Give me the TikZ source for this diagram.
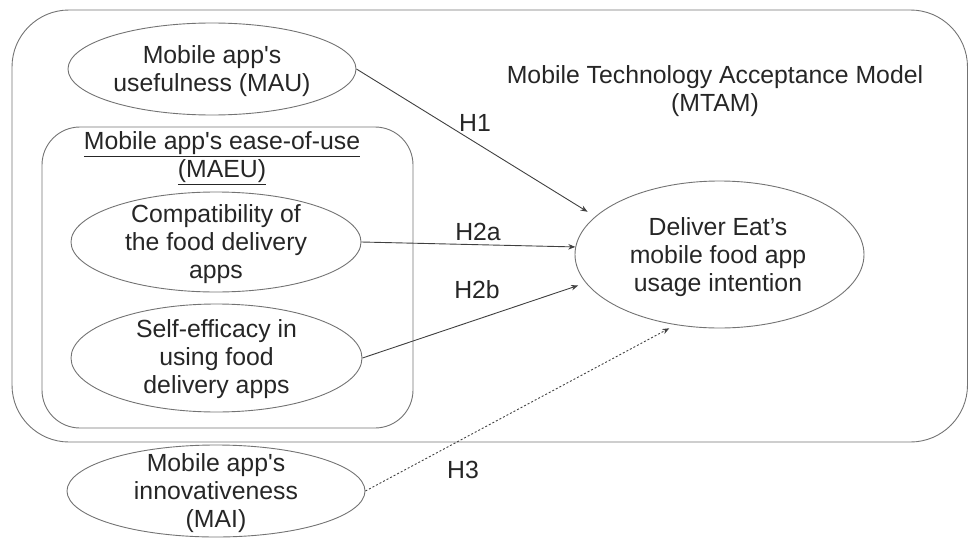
\documentclass[tikz,border=0pt]{standalone}
\usepackage{fontspec}
\setmainfont{Liberation Sans}
\usetikzlibrary{shapes.geometric,arrows.meta}
\begin{document}
\begin{tikzpicture}[x=1pt,y=-1pt,
  txt/.style={align=center,inner sep=0pt,font=\fontsize{24.8}{27.8}\selectfont,text=black!85},
  ell/.style={ellipse,draw=black!55,line width=0.9pt,inner sep=0pt},
  frame/.style={draw=black!55,line width=0.9pt},
  conn/.style={draw=black!75,line width=0.9pt,-{Stealth[length=7pt,width=5.5pt]}},
  hyp/.style={txt}]
\useasboundingbox (0,0) rectangle (969,538);
% frames
\draw[frame,rounded corners=57pt] (12,10) rectangle (967.5,442);
\draw[frame,rounded corners=38pt] (42,127) rectangle (413,428);
% ellipses
\node[ell,minimum width=288pt,minimum height=92pt] (mau) at (212,69) {};
\node[txt] at (212,71) {Mobile app\textquotesingle s\\usefulness (MAU)};
\node[txt] (maeu) at (222,158) {\underline{Mobile app\textquotesingle s ease-of-use}\\\underline{(MAEU)}};
\node[ell,minimum width=290pt,minimum height=100pt] (cmp) at (216,242) {};
\node[txt] at (216,244) {Compatibility of\\the food delivery\\apps};
\node[ell,minimum width=291pt,minimum height=108pt] (se) at (216.5,358) {};
\node[txt] at (216.5,359) {Self-efficacy in\\using food\\delivery apps};
\node[ell,minimum width=298pt,minimum height=92pt] (mai) at (216,491) {};
\node[txt] at (216,493) {Mobile app\textquotesingle s\\innovativeness\\(MAI)};
\node[ell,minimum width=289pt,minimum height=147pt] (de) at (719.5,254.5) {};
\node[txt] at (718,257) {Deliver Eat’s\\mobile food app\\usage intention};
\node[txt] (title) at (715,91) {Mobile Technology Acceptance Model\\(MTAM)};
% connectors
\draw[conn,shorten >=9pt] (mau.east) -- (de.163.2);
\draw[conn] (cmp.east) -- (de.177);
\draw[conn,shorten >=8pt] (se.east) -- (de.-168.2);
\draw[conn,dash pattern=on 2pt off 2pt,shorten >=7pt] (mai.east) -- (de.-122.2);
% labels
\node[hyp] (h1) at (475,123) {H1};
\node[hyp] (h2a) at (478,232) {H2a};
\node[hyp] (h2b) at (477,290) {H2b};
\node[hyp] (h3) at (463,470) {H3};
\end{tikzpicture}
\end{document}
